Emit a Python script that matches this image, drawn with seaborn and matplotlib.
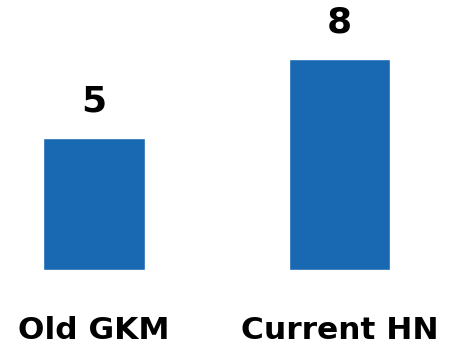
import matplotlib
matplotlib.use("Agg")
import matplotlib.pyplot as plt
import seaborn as sns
import pandas as pd

categories = ["Old GKM", "Current HN"]
values = [5, 8]

sns.set_style("white")
plt.rcParams['font.family'] = ['DejaVu Sans']

df = pd.DataFrame({"cat": categories, "val": values})

fig = plt.figure(figsize=(4.54, 3.52), dpi=100)
ax = fig.add_axes([0, 82/352, 1, 270/352])
sns.barplot(data=df, x="cat", y="val", color="#1868B2", width=0.415,
            saturation=1, ax=ax)

ax.set_xlim(-94/245.5, 1 + (454-339.5)/245.5)
ax.set_ylim(0, 270/26.35)
for i, v in enumerate(values):
    ax.annotate(str(v), (i, v), xytext=(0, 19.5), textcoords="offset points",
                ha="center", va="baseline", fontsize=26, fontweight="bold",
                color="black")

ax.set_xlabel("")
ax.set_ylabel("")
ax.set_yticks([])
ax.tick_params(axis="x", length=0, pad=33, labelsize=22.5, labelcolor="black")
for lab in ax.get_xticklabels():
    lab.set_fontweight("bold")
for s in ax.spines.values():
    s.set_visible(False)

fig.savefig("out.png", dpi=100)
